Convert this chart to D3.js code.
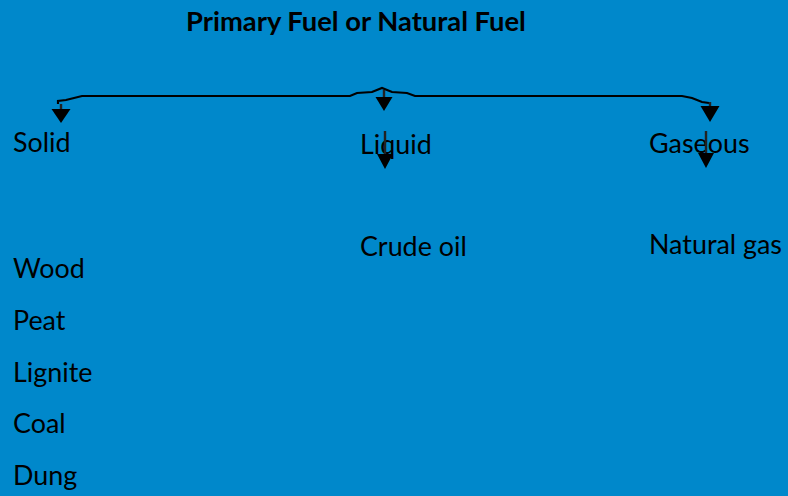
<!DOCTYPE html>
<html><head><meta charset="utf-8">
<script src="https://cdn.jsdelivr.net/npm/d3@7"></script>
<style>html,body{margin:0;padding:0;background:#0088CB;overflow:hidden}</style>
</head><body>
<svg id="c" width="788" height="496"></svg>
<script>
const title = "Primary Fuel or Natural Fuel";
const categories = ["Solid", "Liquid", "Gaseous"];
const solidItems = ["Wood", "Peat", "Lignite", "Coal", "Dung"];
const liquidItems = ["Crude oil"];
const gaseousItems = ["Natural gas"];
const items = [solidItems, liquidItems, gaseousItems];

const W = 788, H = 496;
const svg = d3.select("#c");
const font = "Lato, 'Open Sans', sans-serif";

// column layout
const xCol = d3.scaleOrdinal().domain(categories).range([13, 360, 649]);
const headBase = d3.scaleOrdinal().domain(categories).range([152, 154, 153]);
const itemStart = d3.scaleOrdinal().domain(categories).range([278, 256, 254]);
const rowStep = 51.8;

svg.append("rect").attr("width", W).attr("height", H).attr("fill", "#0088CB");

const tt = svg.append("text").text(title)
  .attr("x", 356).attr("y", 31).attr("text-anchor", "middle")
  .attr("font-family", font).attr("font-weight", "bold").attr("font-size", 23)
  .attr("fill", "#000");
const tw = tt.node().getComputedTextLength();
tt.attr("font-size", 23 * 340 / tw);

// brace
const brace = "M58,104 L58,101 L66,100 L82,96 L350,96 L357,93 L372,92 L382,88 L392,92 L407,93 L415,96 L682,96 L692,98 L702,102 L709,103";
svg.append("path").attr("d", brace).attr("fill", "none").attr("stroke", "#000").attr("stroke-width", 2.2);

function arrow(x, y0, y1, half, h) {
  svg.append("line").attr("x1", x).attr("x2", x).attr("y1", y0).attr("y2", y1)
    .attr("stroke", "#222").attr("stroke-width", 2.4);
  svg.append("path").attr("d", `M${x-half},${y1} L${x+half},${y1} L${x},${y1+h} Z`).attr("fill", "#000");
}

const fs = 27;
const g = svg.append("g").attr("font-family", font).attr("font-size", fs).attr("fill", "#000");
g.selectAll("text.h").data(categories).join("text").attr("class", "h")
  .attr("x", d => xCol(d)).attr("y", d => headBase(d)).text(d => d);

categories.forEach((c, i) => {
  g.selectAll("text.i" + i).data(items[i]).join("text").attr("class", "i" + i)
    .attr("x", xCol(c)).attr("y", (d, j) => itemStart(c) + j * rowStep).text(d => d);
});

const ng = g.selectAll("text").filter(d => d === "Natural gas").node();
const k = 133 / ng.getComputedTextLength();
g.attr("font-size", fs * k);

// arrows (drawn over text)
arrow(61, 104, 109, 9.5, 14);
arrow(384, 90, 97, 8.5, 14);
arrow(710, 102, 106, 9.5, 16);
arrow(385, 131, 154, 8, 15);
arrow(706, 131, 153, 8, 15);
</script>
</body></html>
